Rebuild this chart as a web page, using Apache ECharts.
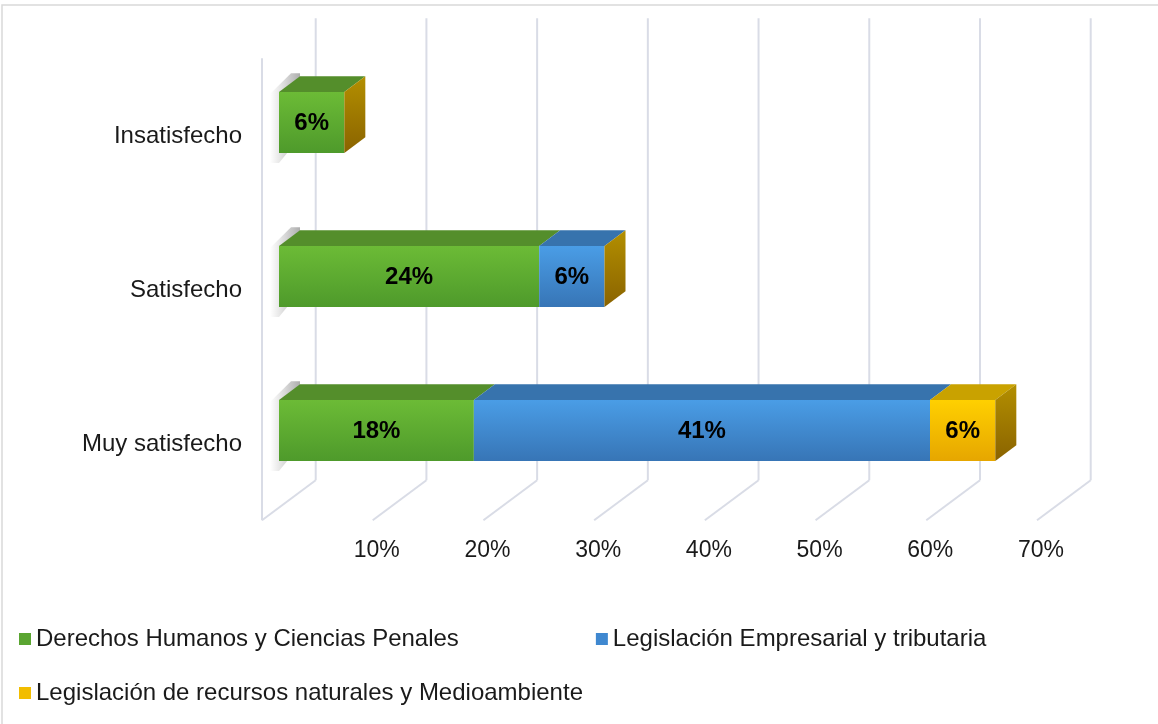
<!DOCTYPE html>
<html>
<head>
<meta charset="utf-8">
<script src="https://cdn.jsdelivr.net/npm/echarts@6/dist/echarts.min.js"></script>
<style>
html,body{margin:0;padding:0;background:#fff;}
#chart{width:1158px;height:724px;}
</style>
</head>
<body>
<div id="chart"></div>
<script>
// ---- data ----
const categories = ['Muy satisfecho', 'Satisfecho', 'Insatisfecho'];
const seriesNames = [
  'Derechos Humanos y Ciencias Penales',
  'Legislación Empresarial y tributaria',
  'Legislación de recursos naturales y Medioambiente'
];
const derechos = [17.6, 23.5, 5.9];
const empresarial = [41.2, 5.9, 0];
const recursos = [5.9, 0, 0];
const xTickValues = [0, 10, 20, 30, 40, 50, 60, 70];
const xTickLabels = ['', '10%', '20%', '30%', '40%', '50%', '60%', '70%'];

// ---- styling ----
const FONT = 'Liberation Sans, Arial, sans-serif';
const BAR_DX = 21, BAR_DY = -15.7;         // bar depth projection
const FRONT_DX = -17, FRONT_DY = 12.7;     // floor front edge relative to bar plane
const BACK_DX = 36.7, BACK_DY = -27.3;     // back wall relative to bar plane
const WALL = '#d9dce6';

const palette = [
  { front: ['#6cbb36', '#4e9a2b'], top: '#548e2b', legend: '#5aa531' },
  { front: ['#4a9de6', '#3775b6'], top: '#3773ad', legend: '#3f88d0' },
  { front: ['#ffd000', '#e6a600'], top: '#c9a200', legend: '#f2bd00' }
];
const capGrad = ['#b38f00', '#8a6300'];

const allVals = [derechos, empresarial, recursos];
function buildData(k) {
  return categories.map((c, i) => {
    let start = 0;
    for (let j = 0; j < k; j++) start += allVals[j][i];
    return [allVals[k][i], i, start];
  });
}

function vgrad(c) {
  return new echarts.graphic.LinearGradient(0, 0, 0, 1, [
    { offset: 0, color: c[0] }, { offset: 1, color: c[1] }
  ]);
}

function barRenderer(k) {
  return function (params, api) {
    const v = api.value(0), ci = api.value(1), st = api.value(2);
    const p0 = api.coord([st, ci]);
    const p1 = api.coord([st + v, ci]);
    const band = api.size([0, 1])[1];
    const h = band * 0.396;
    const yT = p0[1] - h / 2, yB = p0[1] + h / 2;
    const x0 = p0[0], x1 = p1[0];
    const children = [];
    if (k === 0) {
      // soft shadow left of the bar end
      children.push({
        type: 'polygon',
        shape: { points: [
          [x0 - 9, yT + 2], [x0 + BAR_DX - 9, yT + BAR_DY - 3], [x0 + BAR_DX, yT + BAR_DY - 3],
          [x0 + BAR_DX, yB + BAR_DY], [x0, yB + 10], [x0 - 9, yB + 10]
        ] },
        style: { fill: new echarts.graphic.LinearGradient(0, 0, 1, 0, [
          { offset: 0, color: 'rgba(0,0,0,0)' }, { offset: 0.35, color: 'rgba(0,0,0,0.10)' }, { offset: 1, color: 'rgba(0,0,0,0.32)' }
        ]) },
        z2: 0
      });
    }
    if (v > 0) {
      children.push({
        type: 'rect',
        shape: { x: x0, y: yT, width: x1 - x0, height: h },
        style: { fill: vgrad(palette[k].front) },
        z2: 2
      });
      children.push({
        type: 'polygon',
        shape: { points: [[x0, yT], [x1, yT], [x1 + BAR_DX, yT + BAR_DY], [x0 + BAR_DX, yT + BAR_DY]] },
        style: { fill: palette[k].top },
        z2: 2
      });
      children.push({
        type: 'text',
        style: {
          x: (x0 + x1) / 2, y: p0[1] + 1,
          text: Math.round(v) + '%',
          fill: '#000', font: 'bold 24px ' + FONT,
          align: 'center', verticalAlign: 'middle'
        },
        z2: 5
      });
    }
    if (k === 2) {
      children.push({
        type: 'polygon',
        shape: { points: [[x1, yT], [x1 + BAR_DX, yT + BAR_DY], [x1 + BAR_DX, yB + BAR_DY], [x1, yB]] },
        style: { fill: vgrad(capGrad) },
        z2: 3
      });
    }
    return { type: 'group', children: children };
  };
}

function wallRenderer(params, api) {
  const v = api.value(0);
  const idx = params.dataIndex;
  const cs = params.coordSys;
  const px = api.coord([v, 0])[0];
  const top = cs.y, bottom = cs.y + cs.height;
  const children = [];
  const lineStyle = { stroke: WALL, lineWidth: 2 };
  children.push({ type: 'line', shape: { x1: px + BACK_DX, y1: top + BACK_DY, x2: px + BACK_DX, y2: bottom + BACK_DY }, style: lineStyle });
  children.push({ type: 'line', shape: { x1: px + BACK_DX, y1: bottom + BACK_DY, x2: px + FRONT_DX, y2: bottom + FRONT_DY }, style: lineStyle });
  if (v === 0) {
    children.push({ type: 'line', shape: { x1: px + FRONT_DX, y1: top + FRONT_DY, x2: px + FRONT_DX, y2: bottom + FRONT_DY }, style: lineStyle });
  }
  const lbl = xTickLabels[idx];
  if (lbl) {
    children.push({
      type: 'text',
      style: { x: px + FRONT_DX + 4, y: bottom + 43, text: lbl, fill: '#1a1a1a', font: '23px ' + FONT, align: 'center', verticalAlign: 'middle' }
    });
  }
  return { type: 'group', children: children };
}

const chart = echarts.init(document.getElementById('chart'), null, { renderer: 'canvas' });
const option = {
  backgroundColor: '#fff',
  animation: false,
  graphic: [{
    type: 'rect', shape: { x: 2, y: 5, width: 1170, height: 730 },
    style: { fill: 'none', stroke: '#d9d9d9', lineWidth: 1.5 }, silent: true
  }],
  grid: { left: 279, right: 104, top: 45.5, bottom: 216.5, containLabel: false },
  xAxis: { type: 'value', min: 0, max: 70, interval: 10, show: false },
  yAxis: {
    type: 'category', data: categories,
    axisLine: { show: false }, axisTick: { show: false }, splitLine: { show: false },
    axisLabel: { fontSize: 24, fontFamily: FONT, color: '#1a1a1a', margin: 37, verticalAlign: 'top', lineHeight: 28 }
  },
  legend: [
    {
      data: [seriesNames[0], seriesNames[1]], left: 14, top: 622, itemGap: 137,
      icon: 'rect', itemWidth: 12, itemHeight: 12,
      textStyle: { fontSize: 24, fontFamily: FONT, color: '#1a1a1a' }
    },
    {
      data: [seriesNames[2]], left: 14, top: 676,
      icon: 'rect', itemWidth: 12, itemHeight: 12,
      textStyle: { fontSize: 24, fontFamily: FONT, color: '#1a1a1a' }
    }
  ],
  series: [
    {
      type: 'custom', name: '_wall', renderItem: wallRenderer,
      data: xTickValues.map(v => [v, 0]), encode: { x: 0, y: 1 }, z: 1, silent: true
    },
    ...[0, 1, 2].map(k => ({
      type: 'custom', name: seriesNames[k], renderItem: barRenderer(k),
      data: buildData(k), encode: { x: 0, y: 1 }, z: 3 + k,
      itemStyle: { color: palette[k].legend }
    }))
  ]
};
chart.setOption(option);
</script>
</body>
</html>
